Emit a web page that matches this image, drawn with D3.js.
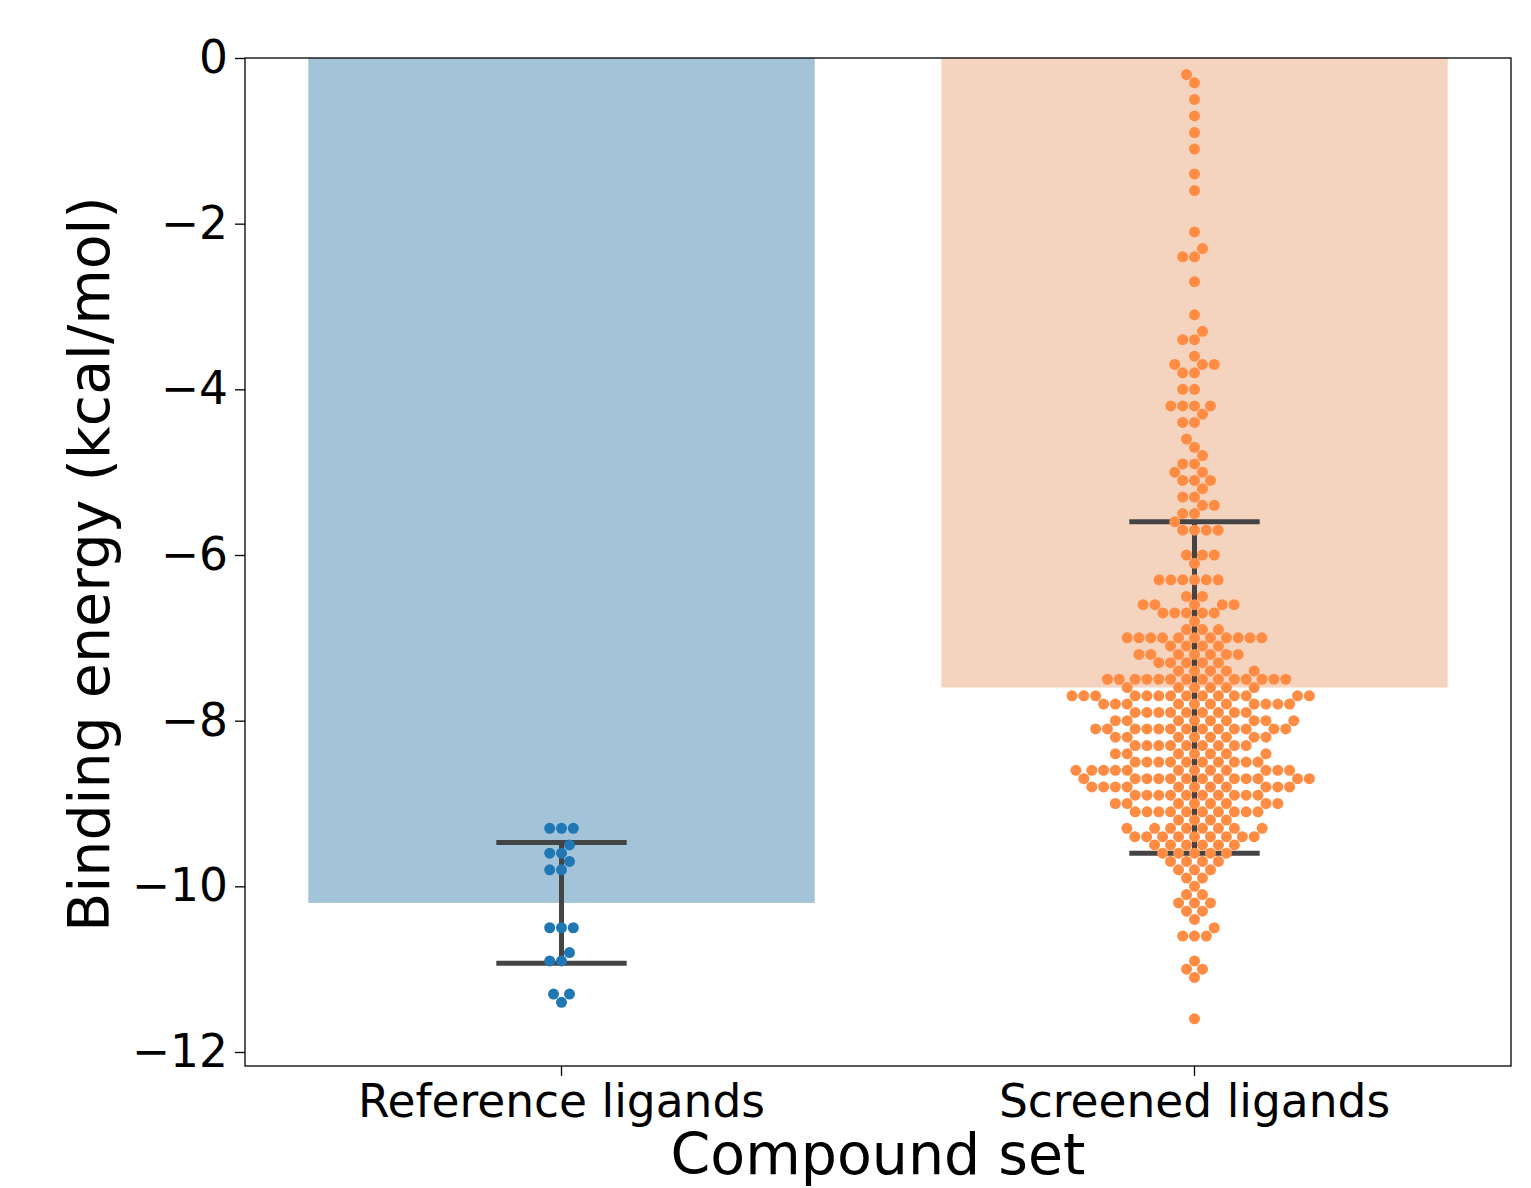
<!DOCTYPE html>
<html>
<head>
<meta charset="utf-8">
<script src="https://cdn.jsdelivr.net/npm/d3@7"></script>
<style>
  body { margin: 0; background: #fff; }
  text { font-family: "DejaVu Sans", sans-serif; }
</style>
</head>
<body>
<svg></svg>
<script>
// Binding energies of reference vs screened ligands (bar = mean, whiskers = sd, dots = swarm)

const width = 1531;
const height = 1188;
const margin = { top: 58, right: 20, bottom: 122, left: 245 };

const categories = ["Reference ligands", "Screened ligands"];
const barMeans = [-10.2, -7.6];
const errLow = [-10.93, -9.6];
const errHigh = [-9.47, -5.6];
const yTicks = [0, -2, -4, -6, -8, -10, -12];

// docking scores come in 0.1 steps, so each set is stored as value + how many compounds have it
const refEnergies = [-9.3, -9.5, -9.6, -9.7, -9.8, -10.5, -10.8, -10.9, -11.3, -11.4];
const refCounts = [3, 1, 2, 1, 2, 3, 1, 2, 2, 1];

const screenEnergies = [-0.2, -0.3, -0.5, -0.7, -0.9, -1.1, -1.4, -1.6, -2.1, -2.3,
  -2.4, -2.7, -3.1, -3.3, -3.4, -3.6, -3.7, -3.8, -4.0,
  -4.2, -4.3, -4.4, -4.6, -4.7, -4.8, -4.9, -5.0,
  -5.1, -5.2, -5.3, -5.4, -5.5, -5.6, -5.7, -6.0, -6.1,
  -6.3, -6.5, -6.6, -6.7, -6.8, -6.9, -7.0, -7.1, -7.2, -7.3, -7.4, -7.5, -7.6,
  -7.7, -7.8, -7.9, -8.0, -8.1, -8.2, -8.3, -8.4, -8.5, -8.6, -8.7, -8.8, -8.9,
  -9.0, -9.1, -9.2, -9.3, -9.4, -9.5, -9.6, -9.7, -9.8,
  -9.9, -10.0, -10.1, -10.2, -10.3, -10.4, -10.5, -10.6, -10.9, -11.0, -11.1, -11.6];
const screenCounts = [1, 1, 1, 1, 1, 1, 1, 1, 1, 1,
  2, 1, 1, 1, 2, 1, 3, 2, 2,
  4, 1, 2, 1, 1, 1, 2, 2,
  3, 1, 2, 2, 2, 1, 4, 3, 1,
  6, 2, 5, 5, 1, 3, 11, 4, 7, 5, 5, 14, 6,
  14, 11, 9, 9, 13, 8, 9, 7, 10, 12, 13, 11, 10,
  8, 10, 4, 8, 9, 6, 5, 4, 3,
  2, 1, 2, 3, 2, 1, 1, 3, 1, 2, 1, 1];

const barColors = ["#a3c4d8", "#f4d4bf"];
const dotColors = ["#1f77b4", "#ff8c42"];

const svg = d3.select("svg").attr("width", width).attr("height", height);

const x = d3.scaleBand()
  .domain(categories)
  .range([margin.left, width - margin.right])
  .paddingInner(0.2)
  .paddingOuter(0.1);

const y = d3.scaleLinear()
  .domain([0, -12.169])
  .range([margin.top, height - margin.bottom]);

const center = (c) => x(c) + x.bandwidth() / 2;

// bars
svg.selectAll(".bar")
  .data(categories)
  .enter()
  .append("rect")
  .attr("class", "bar")
  .attr("x", (d) => x(d))
  .attr("y", y(0))
  .attr("width", x.bandwidth())
  .attr("height", (d, i) => y(barMeans[i]) - y(0))
  .attr("fill", (d, i) => barColors[i]);

// error bars
const capHalf = x.step() * 0.103;
const err = svg.append("g").attr("stroke", "#444").attr("stroke-width", 5);
categories.forEach((c, i) => {
  const cx = center(c);
  err.append("line").attr("x1", cx).attr("x2", cx).attr("y1", y(errHigh[i])).attr("y2", y(errLow[i]));
  [errHigh[i], errLow[i]].forEach((v) => {
    err.append("line").attr("x1", cx - capHalf).attr("x2", cx + capHalf).attr("y1", y(v)).attr("y2", y(v));
  });
});

// seaborn-style beeswarm: place points bottom-up, nearest free spot to the midline
const r = 5.62;
const beeswarm = (energies, counts, cx) => {
  const pts = [];
  energies.forEach((v, i) => {
    for (let k = 0; k < counts[i]; k++) pts.push({ v: v, x: cx, y: -y(v) });
  });
  pts.sort((a, b) => a.y - b.y);
  const swarm = [pts[0]];
  for (let i = 1; i < pts.length; i++) {
    const p = pts[i];
    const nb = [];
    for (let j = swarm.length - 1; j >= 0; j--) {
      if (p.y - swarm[j].y < 2 * r) nb.push(swarm[j]);
      else break;
    }
    const cands = [p.x];
    let leftFirst = true;
    nb.forEach((q) => {
      const dy = p.y - q.y;
      const dx = Math.sqrt(Math.max(4 * r * r - dy * dy, 0)) * 1.05;
      if (leftFirst) cands.push(q.x - dx, q.x + dx);
      else cands.push(q.x + dx, q.x - dx);
      leftFirst = !leftFirst;
    });
    const order = cands
      .map((c, k) => ({ c: c, k: k }))
      .sort((a, b) => Math.abs(a.c - cx) - Math.abs(b.c - cx) || a.k - b.k);
    if (nb.length) {
      for (const o of order) {
        const ok = nb.every((q) => (q.x - o.c) ** 2 + (q.y - p.y) ** 2 >= 4 * r * r - 1e-9);
        if (ok) { p.x = o.c; break; }
      }
    }
    swarm.push(p);
  }
  return swarm;
};

const refSwarm = beeswarm(refEnergies, refCounts, center(categories[0]));
const screenSwarm = beeswarm(screenEnergies, screenCounts, center(categories[1]));

[refSwarm, screenSwarm].forEach((sw, i) => {
  svg.append("g")
    .selectAll("circle")
    .data(sw)
    .enter()
    .append("circle")
    .attr("cx", (d) => d.x)
    .attr("cy", (d) => y(d.v))
    .attr("r", 5.5)
    .attr("fill", dotColors[i]);
});

// axes box
svg.append("rect")
  .attr("x", margin.left)
  .attr("y", margin.top)
  .attr("width", width - margin.right - margin.left)
  .attr("height", height - margin.bottom - margin.top)
  .attr("fill", "none")
  .attr("stroke", "#000")
  .attr("stroke-width", 1.3);

const yAxis = svg.append("g")
  .attr("transform", `translate(${margin.left},0)`)
  .call(d3.axisLeft(y).tickValues(yTicks).tickSize(10).tickPadding(7));
yAxis.select(".domain").remove();

const xAxis = svg.append("g")
  .attr("transform", `translate(0,${height - margin.bottom})`)
  .call(d3.axisBottom(x).tickSize(10).tickPadding(9));
xAxis.select(".domain").remove();

[yAxis, xAxis].forEach((g) => {
  g.selectAll(".tick line").attr("stroke", "#000").attr("stroke-width", 1.3);
  g.selectAll(".tick text")
    .attr("fill", "#000")
    .attr("font-size", 45.5)
    .attr("font-family", "DejaVu Sans");
});

svg.append("text")
  .attr("x", (margin.left + width - margin.right) / 2)
  .attr("y", 1174)
  .attr("text-anchor", "middle")
  .attr("font-size", 57)
  .text("Compound set");

svg.append("text")
  .attr("transform", "translate(109,564) rotate(-90)")
  .attr("text-anchor", "middle")
  .attr("font-size", 57)
  .text("Binding energy (kcal/mol)");
</script>
</body>
</html>
